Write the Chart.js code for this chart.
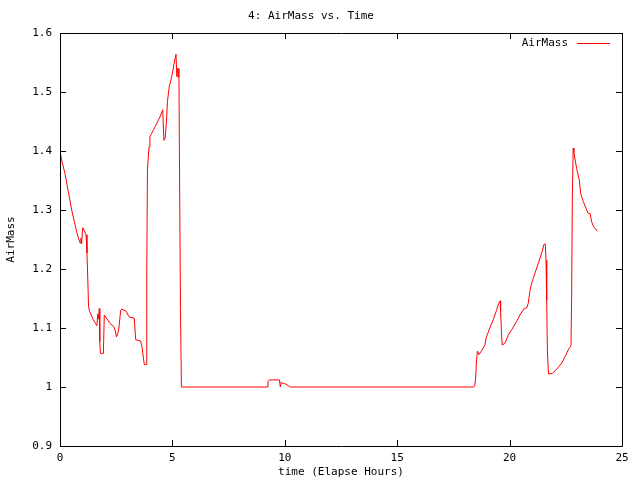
<!DOCTYPE html>
<html>
<head>
<meta charset="utf-8">
<script src="https://cdn.jsdelivr.net/npm/chart.js@4"></script>
<style>
html,body{margin:0;padding:0;background:#fff;}
#wrap{width:640px;height:480px;}
</style>
</head>
<body>
<div id="wrap"><canvas id="c" width="640" height="480"></canvas></div>
<script>
const chartTitle = "4: AirMass vs. Time";
const xTitle = "time (Elapse Hours)";
const yTitle = "AirMass";
const seriesName = "AirMass";

const times = [
  0, 0.07, 0.22, 0.37, 0.52, 0.64, 0.74, 0.84, 0.90, 0.93, 0.96, 1.01, 1.08, 1.16, 1.20, 1.24, 1.27, 1.32, 1.48, 1.64,
  1.68, 1.72, 1.75, 1.77, 1.80, 1.93, 1.97, 2.10, 2.22, 2.40, 2.46, 2.51, 2.57, 2.62, 2.70, 2.76, 2.95, 3.05, 3.11, 3.30,
  3.37, 3.48, 3.58, 3.65, 3.72, 3.75, 3.84, 3.86, 3.89, 3.96, 4.00, 4.08, 4.23, 4.45, 4.57, 4.62, 4.68, 4.73, 4.78, 4.86,
  4.97, 5.08, 5.16, 5.20, 5.23, 5.26, 5.29, 5.31, 5.36, 5.40,
  9.22, 9.25, 9.31, 9.76, 9.80, 9.84, 9.93, 10.05, 10.16, 10.26,
  18.40, 18.45, 18.49, 18.53, 18.57, 18.64, 18.76, 18.90, 18.97, 19.12, 19.27, 19.42, 19.49, 19.58, 19.60, 19.64, 19.67, 19.79,
  19.94, 20.09, 20.31, 20.46, 20.64, 20.76, 20.83, 20.91, 20.98, 21.13, 21.28, 21.43, 21.53, 21.59, 21.62, 21.65, 21.68, 21.73,
  21.90, 22.09, 22.31, 22.46, 22.61, 22.73, 22.76, 22.79, 22.83, 22.86, 22.98, 23.10, 23.16, 23.28, 23.43, 23.50, 23.58, 23.65,
  23.73, 23.90
];
const airMass = [
  1.400, 1.385, 1.362, 1.331, 1.300, 1.280, 1.263, 1.250, 1.244, 1.252, 1.243, 1.270, 1.265, 1.258, 1.227, 1.178, 1.136, 1.128, 1.114, 1.104,
  1.124, 1.115, 1.133, 1.077, 1.057, 1.057, 1.122, 1.115, 1.108, 1.102, 1.095, 1.085, 1.090, 1.100, 1.130, 1.132, 1.128, 1.120, 1.118, 1.117,
  1.080, 1.079, 1.078, 1.068, 1.046, 1.038, 1.038, 1.193, 1.368, 1.407, 1.424, 1.430, 1.441, 1.458, 1.470, 1.418, 1.422, 1.447, 1.484, 1.509,
  1.526, 1.549, 1.564, 1.526, 1.540, 1.525, 1.540, 1.407, 1.133, 1.000,
  1.000, 1.009, 1.012, 1.012, 1.000, 1.008, 1.006, 1.005, 1.002, 1.000,
  1.000, 1.002, 1.015, 1.046, 1.061, 1.055, 1.062, 1.071, 1.085, 1.100, 1.114, 1.130, 1.139, 1.146, 1.128, 1.091, 1.071, 1.074,
  1.088, 1.097, 1.111, 1.122, 1.133, 1.134, 1.142, 1.164, 1.176, 1.193, 1.210, 1.227, 1.242, 1.242, 1.215, 1.147, 1.063, 1.022,
  1.023, 1.030, 1.040, 1.051, 1.063, 1.070, 1.153, 1.320, 1.405, 1.397, 1.371, 1.351, 1.328, 1.314, 1.300, 1.294, 1.294, 1.280,
  1.272, 1.264
];
const xTicks = [0, 5, 10, 15, 20, 25];
const yTicks = [0.9, 1.0, 1.1, 1.2, 1.3, 1.4, 1.5, 1.6];

const FONT = "'DejaVu Sans Mono', 'Liberation Mono', monospace";
const FS = 11;

const points = times.map((t, i) => ({x: t, y: airMass[i]}));

const framePlugin = {
  id: 'frame',
  afterDatasetsDraw(chart) {
    const {ctx, chartArea: a, scales} = chart;
    ctx.save();
    ctx.strokeStyle = '#000';
    ctx.lineWidth = 1;
    ctx.beginPath();
    ctx.rect(Math.round(a.left) + 0.5, Math.round(a.top) + 0.5, Math.round(a.right - a.left), Math.round(a.bottom - a.top));
    ctx.stroke();
    const L = 6;
    ctx.beginPath();
    xTicks.forEach(v => {
      const px = Math.round(scales.x.getPixelForValue(v)) + 0.5;
      ctx.moveTo(px, a.bottom); ctx.lineTo(px, a.bottom - L);
      ctx.moveTo(px, a.top); ctx.lineTo(px, a.top + L);
    });
    yTicks.forEach(v => {
      const py = Math.round(scales.y.getPixelForValue(v)) + 0.5;
      ctx.moveTo(a.left, py); ctx.lineTo(a.left + L, py);
      ctx.moveTo(a.right, py); ctx.lineTo(a.right - L, py);
    });
    ctx.stroke();
    // legend
    const ly = Math.round(a.top + 10) + 0.5;
    ctx.fillStyle = '#000';
    ctx.font = FS + 'px ' + FONT;
    ctx.textAlign = 'right';
    ctx.textBaseline = 'middle';
    ctx.fillText(seriesName, a.right - 54, ly);
    ctx.beginPath();
    ctx.strokeStyle = 'rgb(255,0,0)';
    ctx.lineWidth = 1;
    ctx.moveTo(Math.round(a.right - 45), ly);
    ctx.lineTo(Math.round(a.right - 12), ly);
    ctx.stroke();
    ctx.restore();
  }
};

new Chart(document.getElementById('c'), {
  type: 'line',
  data: {
    datasets: [{
      label: seriesName,
      data: points,
      borderColor: '#ff0000',
      borderWidth: 1,
      pointRadius: 0,
      tension: 0,
      fill: false
    }]
  },
  options: {
    responsive: false,
    animation: false,
    parsing: true,
    layout: {padding: {left: 0, right: 18, top: 0, bottom: 0}},
    plugins: {
      legend: {display: false},
      tooltip: {enabled: false},
      title: {
        display: true,
        text: chartTitle,
        color: '#000',
        font: {family: FONT, size: FS, weight: 'normal', lineHeight: 1.2},
        padding: {top: 10, bottom: 9.8}
      }
    },
    scales: {
      x: {
        type: 'linear',
        min: 0, max: 25,
        grid: {display: false, drawTicks: false},
        border: {display: false},
        afterBuildTicks: s => { s.ticks = xTicks.map(v => ({value: v})); },
        afterFit: s => { s.height = 34; },
        ticks: {
          color: '#000', padding: 6, maxRotation: 0, autoSkip: false,
          font: {family: FONT, size: FS},
          callback: v => String(v)
        },
        title: {
          display: true, text: xTitle, color: '#000',
          font: {family: FONT, size: FS, lineHeight: 1.2},
          padding: {top: 0, bottom: 1.5}
        }
      },
      y: {
        type: 'linear',
        min: 0.9, max: 1.6,
        grid: {display: false, drawTicks: false},
        border: {display: false},
        afterBuildTicks: s => { s.ticks = yTicks.map(v => ({value: v})); },
        afterFit: s => { s.width = 60; },
        ticks: {
          color: '#000', padding: 8, autoSkip: false,
          font: {family: FONT, size: FS},
          callback: v => String(+(+v).toFixed(2))
        },
        title: {
          display: true, text: yTitle, color: '#000',
          font: {family: FONT, size: FS, lineHeight: 1.2},
          padding: {top: 4.5, bottom: 0}
        }
      }
    }
  },
  plugins: [framePlugin]
});
</script>
</body>
</html>
